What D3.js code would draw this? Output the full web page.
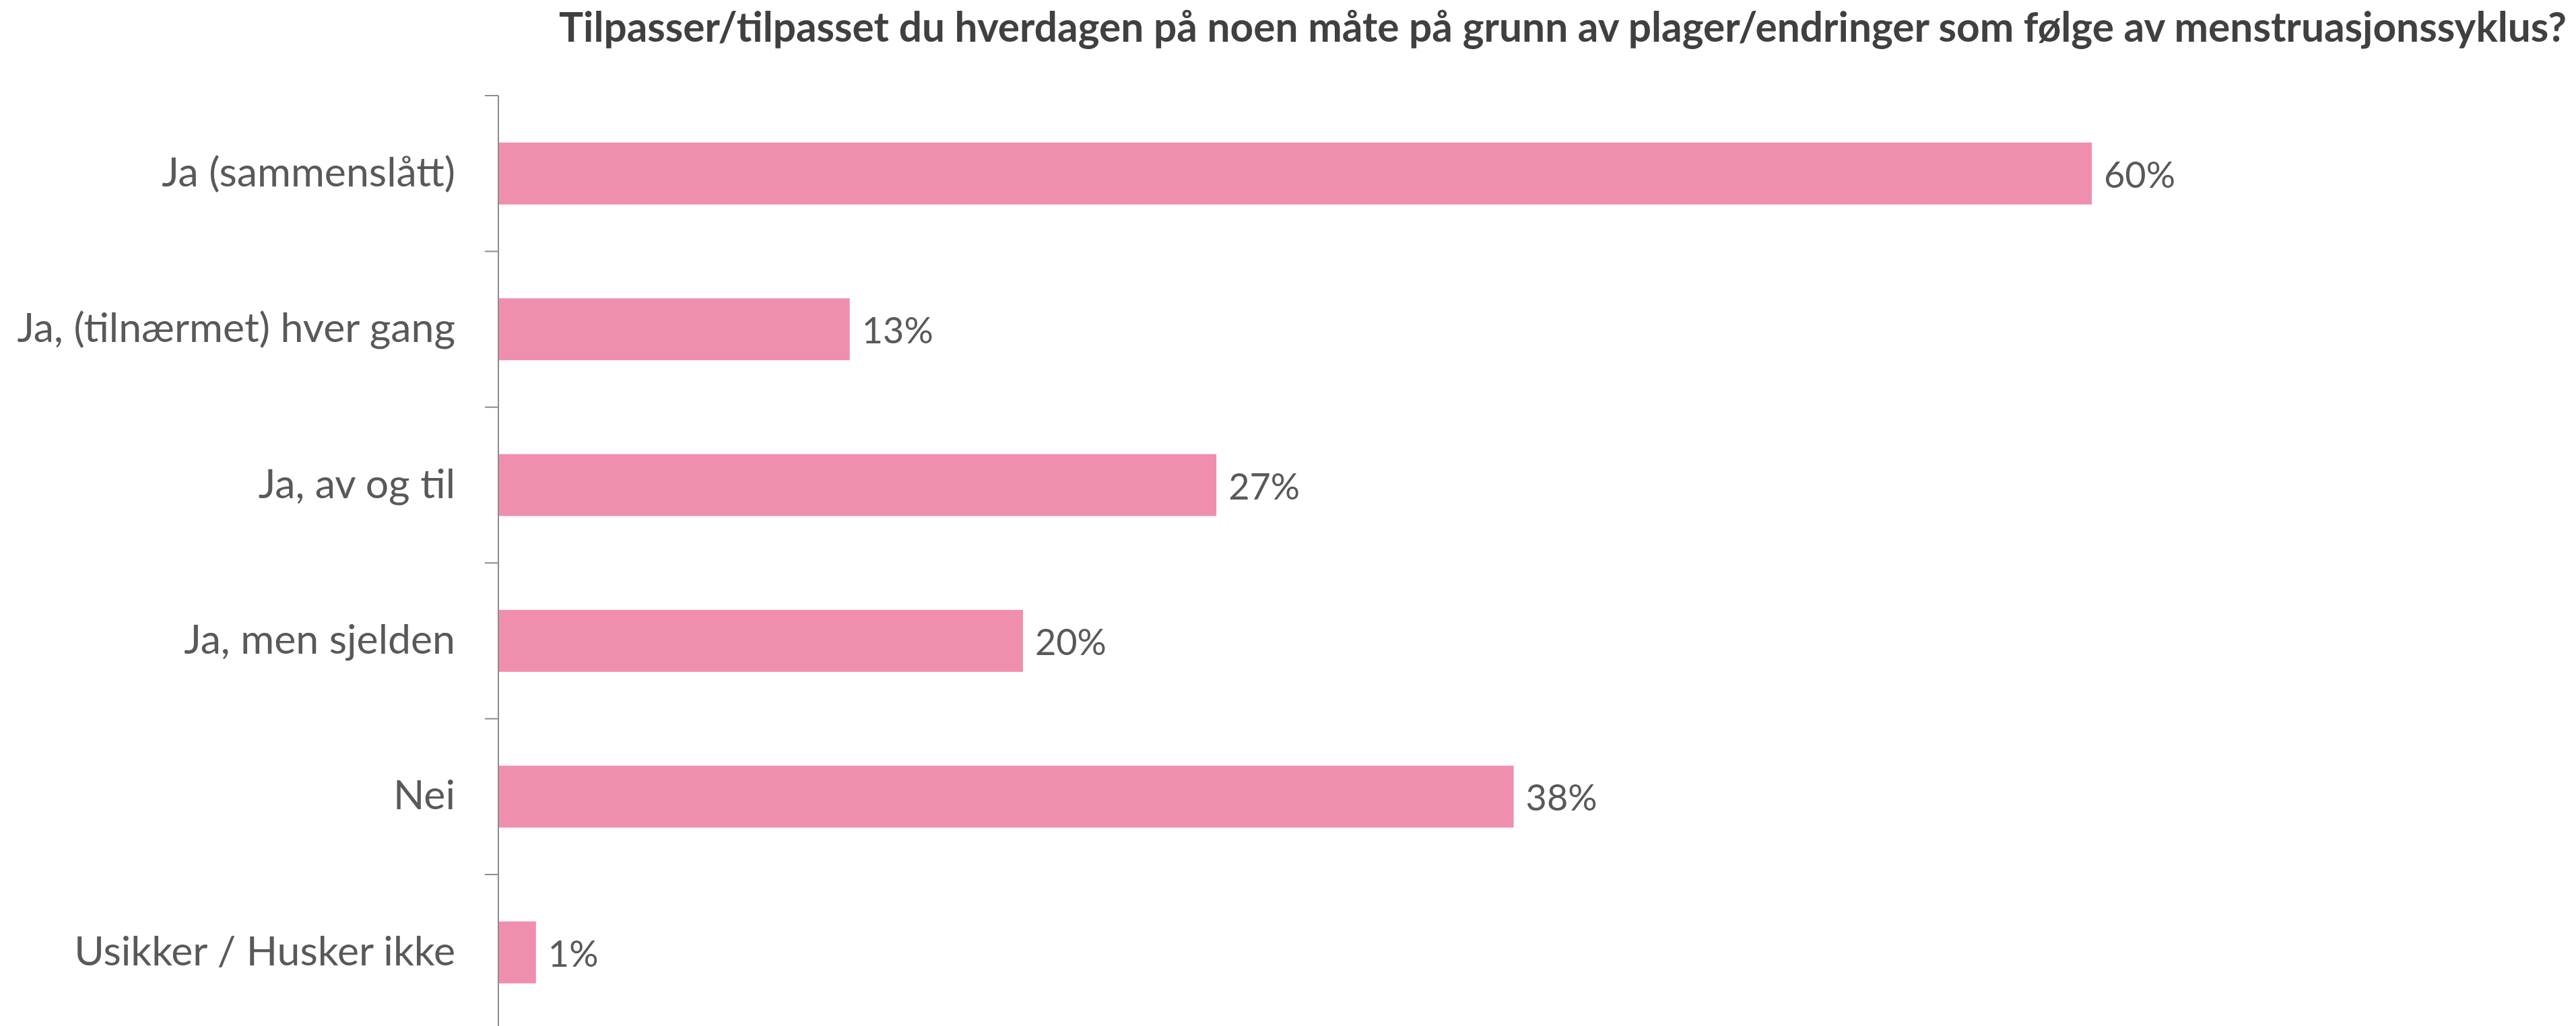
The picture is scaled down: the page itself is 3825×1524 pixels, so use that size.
<!DOCTYPE html>
<html>
<head>
<meta charset="utf-8">
<script src="https://cdn.jsdelivr.net/npm/d3@7"></script>
<style>
  html, body { margin: 0; padding: 0; background: #ffffff; }
  svg { display: block; }
</style>
</head>
<body>
<svg id="chart" width="3825" height="1524"></svg>
<script>
// ---- Data ----
const title = "Tilpasser/tilpasset du hverdagen på noen måte på grunn av plager/endringer som følge av menstruasjonssyklus?";
const categories = [
  "Ja (sammenslått)",
  "Ja, (tilnærmet) hver gang",
  "Ja, av og til",
  "Ja, men sjelden",
  "Nei",
  "Usikker / Husker ikke"
];
const values = [59.95, 13.2, 27.0, 19.72, 38.19, 1.39];   // percent
const valueLabels = ["60%", "13%", "27%", "20%", "38%", "1%"];

// ---- Layout ----
const W = 3825, H = 1524;
const axisX = 741;
const plotTop = 142, plotBottom = 1530.4;
const xMax = 70;
const pxPerPct = 39.45;

const svg = d3.select("#chart");
const font = "Lato, 'Open Sans', 'DejaVu Sans', sans-serif";

const x = d3.scaleLinear().domain([0, xMax]).range([axisX, axisX + xMax * pxPerPct]);
const pad = 1 - 92 / ((plotBottom - plotTop) / categories.length);
const y = d3.scaleBand().domain(categories).range([plotTop, plotBottom])
  .paddingInner(pad).paddingOuter(pad / 2);

const data = categories.map((c, i) => ({ cat: c, v: values[i], lbl: valueLabels[i] }));

// Bars
svg.append("g").selectAll("rect").data(data).join("rect")
  .attr("x", x(0))
  .attr("y", d => y(d.cat))
  .attr("width", d => x(d.v) - x(0))
  .attr("height", y.bandwidth())
  .attr("fill", "#F08FAD");

// Axis line + ticks at band boundaries
const axisG = svg.append("g").attr("stroke", "#8c8c8c").attr("stroke-width", 2);
axisG.append("line")
  .attr("x1", axisX - 1).attr("x2", axisX - 1)
  .attr("y1", plotTop).attr("y2", plotBottom);
const bounds = d3.range(categories.length + 1).map(i => plotTop + i * y.step());
axisG.selectAll("line.tick").data(bounds).join("line")
  .attr("class", "tick")
  .attr("x1", axisX - 21).attr("x2", axisX - 1)
  .attr("y1", d => d).attr("y2", d => d);

// helper: fit font size to a target width
function fitSize(text, weight, baseSize, targetW) {
  const t = svg.append("text").attr("font-family", font).attr("font-weight", weight)
    .attr("font-size", baseSize).text(text);
  const w = t.node().getComputedTextLength();
  t.remove();
  return baseSize * targetW / w;
}

// Category labels
const catSize = fitSize("Ja (sammenslått)", 400, 56, 436);
svg.append("g").selectAll("text").data(data).join("text")
  .attr("x", 676)
  .attr("y", d => y(d.cat) + y.bandwidth() / 2 + 19)
  .attr("text-anchor", "end")
  .attr("font-family", font)
  .attr("font-size", catSize)
  .attr("fill", "#595959")
  .text(d => d.cat);

// Value labels
const valSize = fitSize("60%", 400, 56, 106);
svg.append("g").selectAll("text").data(data).join("text")
  .attr("x", d => x(d.v) + 18)
  .attr("y", d => y(d.cat) + y.bandwidth() / 2 + 21)
  .attr("font-family", font)
  .attr("font-size", valSize)
  .attr("fill", "#595959")
  .text(d => d.lbl);

// Title
const titleSize = fitSize(title, 700, 54, 2981);
svg.append("text")
  .attr("x", 3811)
  .attr("y", 62)
  .attr("text-anchor", "end")
  .attr("font-family", font)
  .attr("font-weight", 700)
  .attr("font-size", titleSize)
  .attr("fill", "#404040")
  .text(title);
</script>
</body>
</html>
